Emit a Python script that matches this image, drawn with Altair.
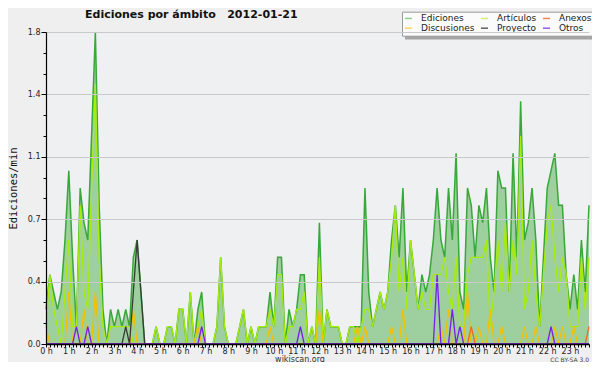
import altair as alt
import pandas as pd

# 10-minute steps, values in edits/min
ediciones = [
    0.2, 0.4, 0.3, 0.2, 0.3, 0.6, 1.0, 0.5, 0.1, 0.9,
    0.7, 0.6, 1.2, 1.8, 0.8, 0.2, 0.0, 0.2, 0.1, 0.2,
    0.1, 0.2, 0.1, 0.5, 0.6, 0.3, 0.0, 0.0, 0.0, 0.1,
    0.0, 0.0, 0.1, 0.1, 0.0, 0.2, 0.2, 0.0, 0.3, 0.0,
    0.2, 0.3, 0.0, 0.0, 0.0, 0.1, 0.5, 0.1, 0.0, 0.0,
    0.0, 0.1, 0.2, 0.0, 0.1, 0.0, 0.1, 0.1, 0.1, 0.3,
    0.1, 0.5, 0.5, 0.0, 0.2, 0.1, 0.2, 0.4, 0.4, 0.0,
    0.1, 0.0, 0.7, 0.0, 0.2, 0.1, 0.1, 0.1, 0.0, 0.0,
    0.1, 0.1, 0.1, 0.1, 0.9, 0.3, 0.1, 0.2, 0.3, 0.2,
    0.3, 0.6, 0.8, 0.5, 0.9, 0.3, 0.6, 0.4, 0.2, 0.4,
    0.3, 0.4, 0.6, 0.9, 0.6, 0.5, 0.9, 0.6, 1.1, 0.3,
    0.2, 0.9, 0.8, 0.5, 0.8, 0.7, 0.9, 0.5, 0.3, 1.0,
    0.9, 0.9, 0.3, 1.1, 0.5, 1.4, 0.6, 0.7, 0.9, 0.6,
    0.1, 0.5, 0.9, 1.0, 1.1, 0.8, 0.8, 0.4, 0.2, 0.4,
    0.2, 0.6, 0.3, 0.8,
]
articulos = [
    0.1, 0.4, 0.2, 0.1, 0.0, 0.3, 0.6, 0.1, 0.1, 0.8,
    0.3, 0.2, 0.9, 1.5, 0.5, 0.1, 0.0, 0.1, 0.1, 0.1,
    0.1, 0.1, 0.1, 0.0, 0.0, 0.0, 0.0, 0.0, 0.0, 0.1,
    0.0, 0.0, 0.1, 0.1, 0.0, 0.2, 0.2, 0.0, 0.3, 0.0,
    0.1, 0.2, 0.0, 0.0, 0.0, 0.1, 0.5, 0.1, 0.0, 0.0,
    0.0, 0.1, 0.2, 0.0, 0.1, 0.0, 0.1, 0.1, 0.1, 0.2,
    0.1, 0.4, 0.4, 0.0, 0.1, 0.1, 0.2, 0.2, 0.3, 0.0,
    0.1, 0.0, 0.5, 0.0, 0.2, 0.1, 0.1, 0.1, 0.0, 0.0,
    0.1, 0.1, 0.0, 0.1, 0.2, 0.2, 0.1, 0.2, 0.3, 0.2,
    0.3, 0.5, 0.8, 0.3, 0.5, 0.2, 0.6, 0.4, 0.2, 0.3,
    0.2, 0.2, 0.4, 0.4, 0.4, 0.5, 0.3, 0.2, 0.5, 0.1,
    0.1, 0.4, 0.5, 0.5, 0.5, 0.5, 0.6, 0.1, 0.3, 0.6,
    0.3, 0.7, 0.3, 0.6, 0.4, 1.2, 0.2, 0.3, 0.6, 0.3,
    0.1, 0.4, 0.7, 0.8, 0.5, 0.3, 0.5, 0.4, 0.1, 0.1,
    0.1, 0.5, 0.2, 0.5,
]
# sparse series: {step index: value}, all other steps are 0
discusiones = {0: 0.1, 6: 0.3, 10: 0.2, 13: 0.3, 23: 0.2, 40: 0.1, 59: 0.1, 72: 0.2,
               82: 0.1, 84: 0.1, 91: 0.1, 94: 0.2, 104: 0.1, 106: 0.2, 111: 0.3,
               114: 0.1, 117: 0.2, 120: 0.1, 126: 0.1, 129: 0.1, 134: 0.1, 136: 0.1,
               139: 0.1}
anexos = {112: 0.1, 143: 0.1}
proyecto = {21: 0.1, 23: 0.3, 24: 0.6, 25: 0.3}
otros = {8: 0.1, 11: 0.1, 41: 0.1, 67: 0.1, 103: 0.4, 107: 0.2, 109: 0.1, 133: 0.1}

# legend is filled column by column (2 rows x 3 columns)
legend_order = ["Ediciones", "Discusiones", "Artículos", "Proyecto", "Anexos", "Otros"]
legend_colors = ["#8fd08f", "#f8d858", "#d2f070", "#606060", "#f08555", "#9558ee"]
y_ticks = [0.0, 0.12, 0.24, 0.36, 0.48, 0.6, 0.72, 0.84, 0.96, 1.08, 1.2, 1.32,
           1.44, 1.56, 1.68, 1.8]
title_text = "Ediciones por ámbito\u00a0\u00a0 2012-01-21"

N = len(ediciones)


def expand(d):
    return [d.get(i, 0.0) for i in range(N)]


series = {
    "Ediciones": ediciones,
    "Artículos": articulos,
    "Anexos": expand(anexos),
    "Discusiones": expand(discusiones),
    "Proyecto": expand(proyecto),
    "Otros": expand(otros),
}
df = pd.DataFrame([{"t": i, "serie": s, "v": vals[i]}
                   for s, vals in series.items() for i in range(N)])

xs = alt.Scale(domain=[0, N - 1], nice=False, zero=False)
ys = alt.Scale(domain=[0, 1.8], nice=False)
major = "abs(datum.value/0.36 - round(datum.value/0.36)) < 0.01"

x_axis = alt.Axis(
    values=list(range(N)),
    labelExpr="datum.value % 6 == 0 ? (datum.value / 6) + ' h' : ''",
    tickSize=3, tickColor="black", domainColor="black", domainWidth=1.5,
    labelPadding=0, labelFlush=False, labelOverlap=False, grid=False,
    labelFont="DejaVu Sans", labelFontSize=8, labelColor="#222",
    title=None, zindex=1,
)
y_axis = alt.Axis(
    values=y_ticks,
    labelExpr=major + " ? format(datum.value, '.1f') : ''",
    tickSize={"condition": {"test": major, "value": 5}, "value": 3},
    gridOpacity={"condition": {"test": major, "value": 1}, "value": 0},
    grid=True, gridColor="#c9c9c9", gridWidth=1,
    tickColor="black", domainColor="black", domainWidth=1.2,
    labelPadding=1, labelOverlap=False, labelFlush=False,
    labelFont="DejaVu Sans", labelFontSize=8, labelColor="#222",
    title="Ediciones/min", titleFont="DejaVu Sans Mono", titleFontSize=10.5,
    titleFontWeight="normal", titleColor="#111", titleAngle=270,
    titleX=-30, titleY=156, titleAlign="center", titleBaseline="alphabetic",
    zindex=1,
)
X = alt.X("t:Q", scale=xs, axis=x_axis)
Y = alt.Y("v:Q", scale=ys, axis=y_axis)

base = alt.Chart(df)

area = base.transform_filter(alt.datum.serie == "Ediciones").mark_area(
    color="#3aa63a", fillOpacity=0.45, interpolate="linear"
).encode(x=X, y=Y)

line_styles = [
    ("Ediciones", "#38a838", 1.5),
    ("Artículos", "#a8ec0a", 1.3),
    ("Discusiones", "#f2c000", 1.3),
    ("Anexos", "#ee6a22", 1.3),
    ("Proyecto", "#3a3a3a", 1.3),
    ("Otros", "#7a1ee8", 1.3),
]
lines = [
    base.transform_filter(alt.datum.serie == name).mark_line(
        color=col, strokeWidth=w, interpolate="linear"
    ).encode(x=X, y=Y)
    for name, col, w in line_styles
]

one = pd.DataFrame({"a": [0]})

shadow = alt.Chart(one).mark_rect(color="#a4a4a4").encode(
    x=alt.value(359), x2=alt.value(546), y=alt.value(-17), y2=alt.value(7.5)
)

legend_layer = base.mark_line(opacity=0).encode(
    x=X, y=Y,
    color=alt.Color(
        "serie:N",
        scale=alt.Scale(domain=legend_order, range=legend_colors),
        legend=alt.Legend(
            orient="none", legendX=356, legendY=-20.3, columns=3, title=None,
            symbolType="stroke", symbolSize=49, symbolStrokeWidth=1.5,
            symbolOpacity=1, labelFont="DejaVu Sans", labelFontSize=9,
            labelColor="#222", rowPadding=0, columnPadding=3, labelOffset=8,
            padding=2, fillColor="#fbfbfb", strokeColor="#9a9a9a",
            labelLimit=200,
        ),
    ),
)

title = alt.Chart(pd.DataFrame({"s": [title_text]})).mark_text(
    font="DejaVu Sans", fontSize=11, fontWeight="bold", align="left",
    baseline="alphabetic", color="#111"
).encode(text="s:N", x=alt.value(39), y=alt.value(-13.7))

footer = alt.Chart(pd.DataFrame({"s": ["wikiscan.org"]})).mark_text(
    font="DejaVu Sans", fontSize=8, align="center", baseline="alphabetic", color="#333"
).encode(text="s:N", x=alt.value(254), y=alt.value(329.5))

licence = alt.Chart(pd.DataFrame({"s": ["CC BY-SA 3.0"]})).mark_text(
    font="DejaVu Sans", fontSize=6, align="right", baseline="alphabetic", color="#444"
).encode(text="s:N", x=alt.value(543), y=alt.value(330))

chart = alt.layer(
    area, *lines, shadow, legend_layer, title, footer, licence
).properties(
    width=543,
    height=312,
    padding={"left": 38, "top": 24, "right": 3, "bottom": 18},
    autosize=alt.AutoSizeParams(type="none"),
    background="#efefef",
).configure_view(fill="#eef0f2", strokeOpacity=0)

chart.save("out.html", embed_options={"renderer": "svg", "actions": False})
